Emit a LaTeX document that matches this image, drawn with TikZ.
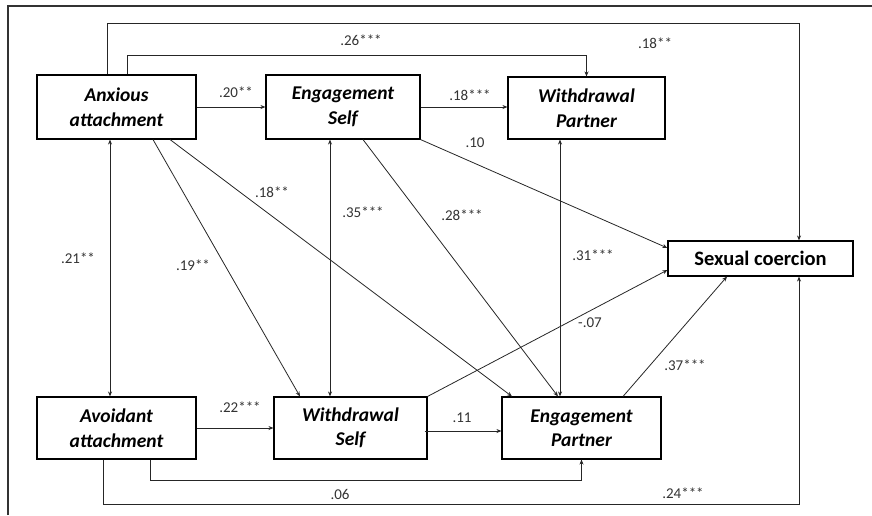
\documentclass[tikz,border=0pt]{standalone}
\usepackage{fontspec}
\setmainfont{Carlito}
\usetikzlibrary{arrows.meta}
\begin{document}
\begin{tikzpicture}[x=1pt,y=-1pt,
  box/.style={draw=black,line width=1.1pt,inner sep=0pt,align=center,font=\fontsize{19.5}{24.5}\selectfont\bfseries\itshape},
  arr/.style={draw=black!85,line width=0.8pt,-{Stealth[length=5pt,width=4pt]}},
  darr/.style={draw=black!85,line width=0.8pt,{Stealth[length=5pt,width=4pt]}-{Stealth[length=5pt,width=4pt]}},
  lab/.style={font=\fontsize{15}{17}\selectfont,text=black!80,inner sep=1pt}]
\useasboundingbox (0,0) rectangle (872,515);
\draw[line width=1.2pt,black!80] (8,515) -- (8,6) -- (872,6);
% nodes
\node[box,minimum width=159pt,minimum height=64pt] (anx) at (116.5,107) {Anxious\\attachment};
\node[box,minimum width=154pt,minimum height=64pt] (es) at (343,107) {Engagement\\Self};
\node[box,minimum width=157pt,minimum height=62pt] (wp) at (586.5,108) {Withdrawal\\Partner};
\node[box,minimum width=185pt,minimum height=35pt,font=\fontsize{20.5}{24}\selectfont\bfseries] (sc) at (760.5,258.5) {Sexual coercion};
\node[box,minimum width=159pt,minimum height=62pt] (avo) at (116.5,428) {Avoidant\\attachment};
\node[box,minimum width=153pt,minimum height=62pt] (ws) at (350.5,428) {Withdrawal\\Self};
\node[box,minimum width=159pt,minimum height=62pt] (ep) at (581.5,428) {Engagement\\Partner};
% corner coordinates
\coordinate (tr) at (799,23);
\coordinate (t2) at (0,55);
\coordinate (b1) at (0,480);
\coordinate (br) at (799,504);
% loops
\draw[arr] ([xshift=-9.5pt]anx.north) |- (tr) -- ([xshift=38.5pt]sc.north);
\draw[arr] ([xshift=10.5pt]anx.north) |- (t2 -| wp.north) -- (wp.north);
\draw[arr] ([xshift=33.5pt]avo.south) |- (b1 -| ep.south) -- (ep.south);
\draw[arr] ([xshift=-13.5pt]avo.south) |- (br) -- ([xshift=38.5pt]sc.south);
% horizontals
\draw[arr] (anx.east) -- (es.west);
\draw[arr] (es.east) -- (es.east -| wp.west);
\draw[arr] (avo.east) -- (avo.east -| ws.west);
\draw[arr] ([xshift=-3pt,yshift=-3pt]ws.east) -- ([yshift=-3pt]ws.east -| ep.west);
% verticals
\draw[darr] ([xshift=-6.5pt]anx.south) -- ([xshift=-6.5pt]avo.north);
\draw[darr] ([xshift=-13pt]es.south) -- ([xshift=-20.5pt]ws.north);
\draw[darr] ([xshift=-26.5pt]wp.south) -- ([xshift=-21.5pt]ep.north);
% diagonals
\draw[arr] ([xshift=36.5pt]anx.south) -- ([xshift=-50.5pt]ws.north);
\draw[arr] ([xshift=53.5pt]anx.south) -- ([xshift=-69.5pt]ep.north);
\draw[arr] ([xshift=20pt]es.south) -- ([xshift=-23.5pt]ep.north);
\draw[arr] (es.south east) -- ([yshift=10.5pt]sc.west);
\draw[arr] (ws.north east) -- ([yshift=-11.5pt]sc.west);
\draw[arr] ([xshift=41.5pt]ep.north) -- ([xshift=-33.5pt]sc.south);
% labels
\node[lab] (l1) at (655,43) {.18**};
\node[lab] (l2) at (361,40) {.26***};
\node[lab] (l3) at (236,92) {.20**};
\node[lab] (l4) at (470,95) {.18***};
\node[lab] (l5) at (475,143) {.10};
\node[lab] (l6) at (272,192) {.18**};
\node[lab] (l7) at (363,212) {.35***};
\node[lab] (l8) at (462,215) {.28***};
\node[lab] (l9) at (78,258) {.21**};
\node[lab] (l10) at (193,265) {.19**};
\node[lab] (l11) at (593,255) {.31***};
\node[lab] (l12) at (590,323) {-.07};
\node[lab] (l13) at (685,365) {.37***};
\node[lab] (l14) at (240,407) {.22***};
\node[lab] (l15) at (462,418) {.11};
\node[lab] (l16) at (340,494) {.06};
\node[lab] (l17) at (683,493) {.24***};
\end{tikzpicture}
\end{document}
